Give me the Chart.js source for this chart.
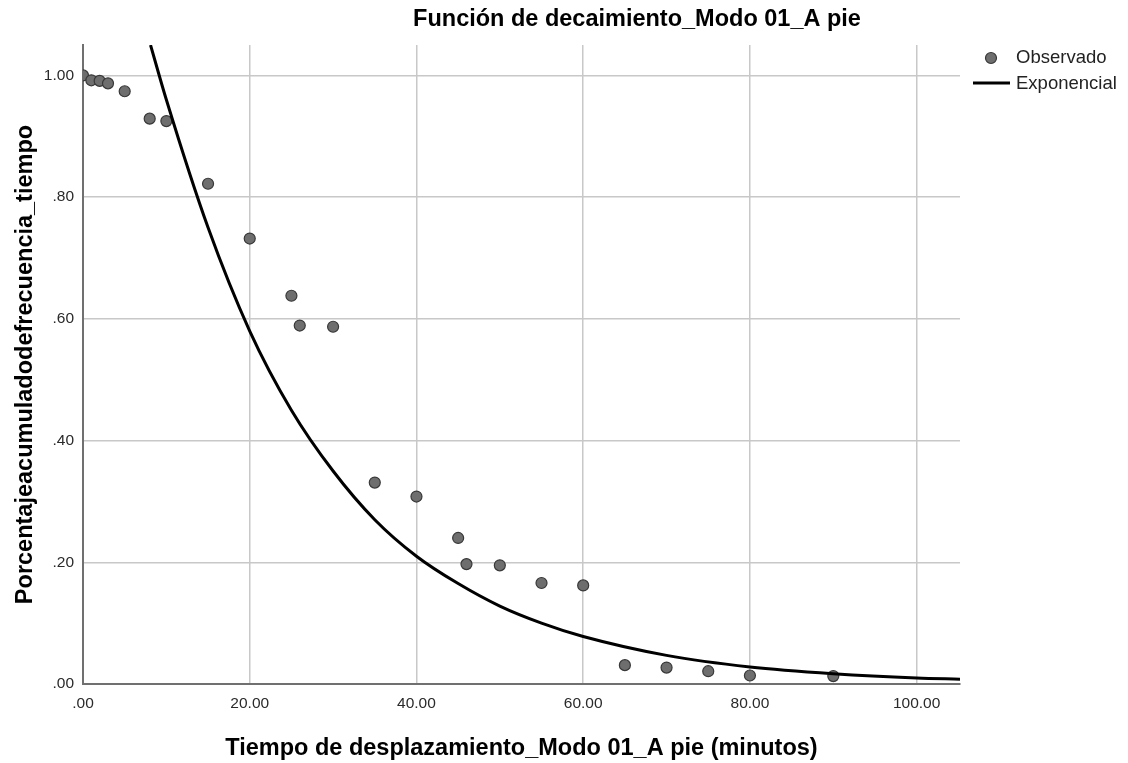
<!DOCTYPE html>
<html>
<head>
<meta charset="utf-8">
<title>Función de decaimiento</title>
<script src="https://cdn.jsdelivr.net/npm/chart.js@4"></script>
<style>
  html, body { margin: 0; padding: 0; background: #fff; }
  #wrap { width: 1128px; height: 763px; position: relative; }
</style>
</head>
<body>
<div id="wrap"><canvas id="myChart"></canvas></div>
<script>
/**
 * Data
 */
var obsX = [0, 1, 2, 3, 5, 8, 10, 15, 20, 25, 26, 30, 35, 40, 45, 46, 50, 55, 60, 65, 70, 75, 80, 90];
var obsY = [1.00, 0.992, 0.991, 0.987, 0.974, 0.929, 0.925, 0.822, 0.732, 0.638, 0.589, 0.587, 0.331, 0.308, 0.240, 0.197, 0.195, 0.166, 0.162, 0.031, 0.027, 0.021, 0.014, 0.013];

// fitted exponential curve
var fitX = [8.1, 10, 15, 20, 25, 30, 35, 40, 45, 50, 55, 60, 70, 80, 90, 100, 105.2];
var fitY = [1.05, 0.96, 0.75, 0.58, 0.45, 0.35, 0.27, 0.21, 0.165, 0.128, 0.10, 0.078, 0.047, 0.028, 0.017, 0.010, 0.008];

var seriesNames = ['Observado', 'Exponencial'];
var chartTitle = 'Función de decaimiento_Modo 01_A pie';
var xTitle = 'Tiempo de desplazamiento_Modo 01_A pie (minutos)';
var yTitle = 'Porcentajeacumuladodefrecuencia_tiempo';

var FONT = '"Liberation Sans", Arial, sans-serif';
var pointFill = '#6e6e6e';
var pointEdge = '#383838';

function fmt(v) {
  // SPSS style: .00, .20, 1.00, 20.00
  var s = Number(v).toFixed(2);
  return s.replace(/^0\./, '.');
}

const data = {
  datasets: [
    {
      label: seriesNames[1],
      type: 'line',
      data: fitX.map((x, i) => ({ x: x, y: fitY[i] })),
      borderColor: '#000000',
      borderWidth: 3,
      pointRadius: 0,
      fill: false,
      cubicInterpolationMode: 'monotone',
      clip: 0
    },
    {
      label: seriesNames[0],
      type: 'scatter',
      data: obsX.map((x, i) => ({ x: x, y: obsY[i] })),
      backgroundColor: pointFill,
      borderColor: pointEdge,
      borderWidth: 1.2,
      pointRadius: 5.5,
      clip: 0
    }
  ]
};

// titles and legend drawn where the original puts them
const textPlugin = {
  id: 'spssText',
  afterDraw(chart) {
    const ctx = chart.ctx;
    const area = chart.chartArea;
    ctx.save();
    ctx.fillStyle = '#000';
    ctx.font = 'bold 23.5px ' + FONT;
    ctx.textAlign = 'center';
    ctx.textBaseline = 'alphabetic';
    ctx.fillText(chartTitle, 637, 26);
    ctx.fillText(xTitle, (area.left + area.right) / 2, 755);

    ctx.save();
    ctx.translate(32, (area.top + area.bottom) / 2);
    ctx.rotate(-Math.PI / 2);
    ctx.fillText(yTitle, 0, 0);
    ctx.restore();

    // legend
    ctx.beginPath();
    ctx.arc(991, 58, 5.5, 0, Math.PI * 2);
    ctx.fillStyle = pointFill;
    ctx.fill();
    ctx.lineWidth = 1.2;
    ctx.strokeStyle = pointEdge;
    ctx.stroke();

    ctx.beginPath();
    ctx.moveTo(973, 83);
    ctx.lineTo(1010, 83);
    ctx.lineWidth = 3;
    ctx.strokeStyle = '#000';
    ctx.stroke();

    ctx.fillStyle = '#222';
    ctx.font = '18.5px ' + FONT;
    ctx.textAlign = 'left';
    ctx.textBaseline = 'middle';
    ctx.fillText(seriesNames[0], 1016, 58);
    ctx.fillText(seriesNames[1], 1016, 84);
    ctx.restore();
  }
};

const config = {
  type: 'scatter',
  data,
  options: {
    responsive: true,
    maintainAspectRatio: false,
    animation: false,
    layout: {
      padding: { left: 0, top: 45, right: 168, bottom: 0 }
    },
    plugins: {
      legend: { display: false },
      title: { display: false },
      tooltip: { enabled: false }
    },
    scales: {
      x: {
        type: 'linear',
        min: 0,
        max: 105.2,
        afterFit: (scale) => { scale.height = 79; },
        border: { color: '#707070', width: 2 },
        grid: { color: '#c8c8c8', lineWidth: 1.5, drawTicks: false },
        ticks: {
          stepSize: 20,
          includeBounds: false,
          maxRotation: 0,
          padding: 10,
          color: '#2a2a2a',
          font: { family: FONT, size: 15.5 },
          callback: (v) => fmt(v)
        }
      },
      y: {
        type: 'linear',
        min: 0,
        max: 1.05,
        afterFit: (scale) => { scale.width = 83; },
        border: { color: '#707070', width: 2 },
        grid: { color: '#c8c8c8', lineWidth: 1.5, drawTicks: false },
        ticks: {
          stepSize: 0.2,
          includeBounds: false,
          padding: 9,
          color: '#2a2a2a',
          font: { family: FONT, size: 15.5 },
          callback: (v) => fmt(v)
        }
      }
    }
  },
  plugins: [textPlugin]
};

document.addEventListener('DOMContentLoaded', (event) => {
  myChart = new Chart(
    document.getElementById('myChart'),
    config
  );
});
</script>
</body>
</html>
